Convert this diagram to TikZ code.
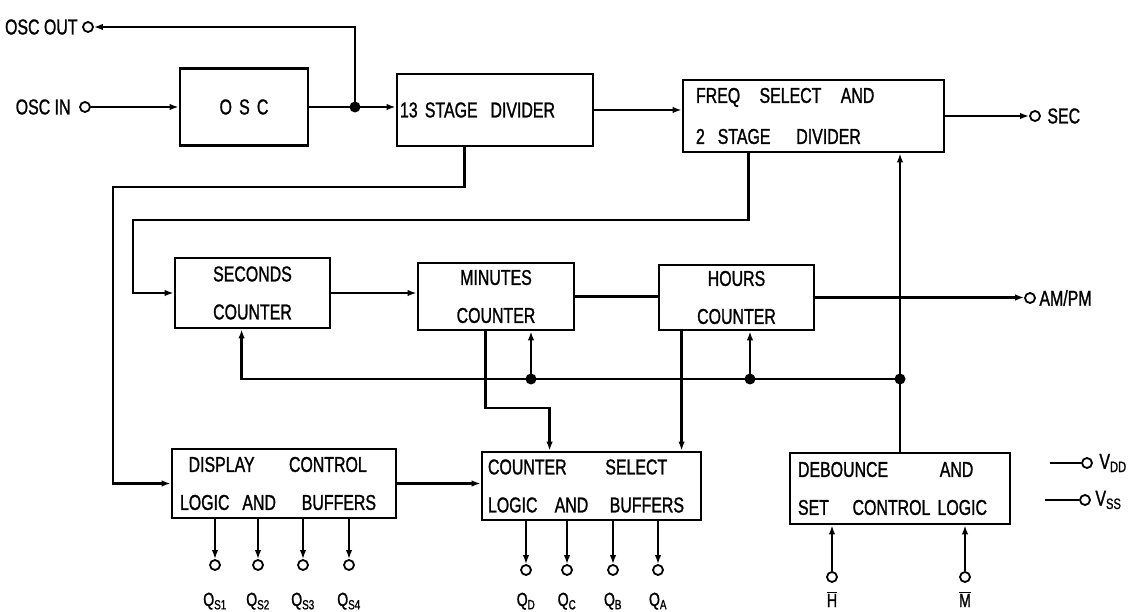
\documentclass[tikz,border=0pt]{standalone}
\usepackage{fontspec}
\newfontfamily\lblfont[FakeStretch=0.74,FakeBold=1.2]{Liberation Sans}
\usetikzlibrary{arrows.meta,positioning,calc}

\newcommand{\wgap}{\hspace{0.6em}}
\newcommand{\bgap}{\hspace{1.2em}}

\begin{document}
\begin{tikzpicture}
   [x=1pt,y=-1pt,
    >={Latex[length=9pt,width=6.5pt]},
    every node/.style={font=\lblfont\fontsize{21.5}{38}\selectfont},
    blk/.style={draw,line width=2.8pt,inner xsep=8pt,inner ysep=0pt,align=left},
    cblk/.style={blk,align=center},
    term/.style={circle,draw,line width=1.8pt,minimum size=10pt,inner sep=0pt},
    sig/.style={line width=2.3pt,->},
    wire/.style={line width=2.3pt},
    dot/.style={circle,fill,inner sep=0pt,minimum size=11pt},
    qlbl/.style={font=\lblfont\fontsize{19}{19}\selectfont,anchor=base}]

\path[use as bounding box,fill=white] (0,0) rectangle (1128,612);

% blocks
\node [cblk,text width=112pt,minimum height=77pt] (osc) at (244,107) {O S C};
\node [blk,text width=190pt,minimum height=72pt,inner xsep=3pt] (div) at (495,110) {13 STAGE\wgap DIVIDER};
\node [blk,text width=235pt,minimum height=72pt,inner xsep=13pt] (freq) at (813.5,116) {FREQ\hspace{0.9em}SELECT\hspace{0.9em}AND\\[3pt]2\wgap STAGE\bgap DIVIDER};
\node [cblk,text width=139pt,minimum height=70pt] (sec) at (252.5,293) {SECONDS\\COUNTER};
\node [cblk,text width=140pt,minimum height=67pt] (mins) at (496,296.5) {MINUTES\\COUNTER};
\node [cblk,text width=139pt,minimum height=65pt] (hrs) at (736.5,297.5) {HOURS\\COUNTER};
\node [blk,text width=208pt,minimum height=69pt] (disp) at (284,483.5) {\hspace{0.4em}DISPLAY\hspace{1.6em}CONTROL\\LOGIC\wgap AND\bgap BUFFERS};
\node [blk,text width=207pt,minimum height=68pt,inner xsep=6pt] (csel) at (591.5,486) {COUNTER\hspace{1.8em}SELECT\\LOGIC\hspace{0.8em}AND\hspace{1em}BUFFERS};
\node [blk,text width=204pt,minimum height=71pt] (deb) at (900,488.5) {DEBOUNCE\hspace{2.4em}AND\\SET\hspace{1.1em}CONTROL LOGIC};

% terminals
\node [term] (oscout) at (88,27) {};
\node [left=1pt of oscout] (toscout) {OSC OUT};
\node [term] (oscin) at (85,107) {};
\node [left=5pt of oscin] (toscin) {OSC IN};
\node [term] (secout) at (1035,116) {};
\node [right=3pt of secout] (tsecout) {SEC};
\node [term] (ampm) at (1030,298) {};
\node [right=0pt of ampm] (tampm) {AM/PM};
\node [term] (vdd) at (1087,463) {};
\node [right=3pt of vdd] (tvdd) {V\textsubscript{DD}};
\node [term] (vss) at (1085,500) {};
\node [right=1pt of vss] (tvss) {V\textsubscript{SS}};
\coordinate (vdd0) at (1050,463);
\coordinate (vss0) at (1045,500);
\draw [wire] (vdd0) -- (vdd);
\draw [wire] (vss0) -- (vss);

% oscillator chain
\coordinate (jo) at (355,107);
\draw [sig] (oscin) -- (osc);
\draw [sig] (osc) -- (osc -| div.west);
\draw [sig] (jo) |- (oscout);
\node [dot] (djo) at (jo) {};
\draw [sig] (div) -- (div -| freq.west);
\draw [sig] (freq) -- (secout);

% feeds to seconds and display
\coordinate (c1) at (133,220);
\coordinate (c2) at (113,187);
\draw [sig] ([xshift=67pt]freq.south west) |- (c1) |- (sec.west);
\draw [sig] ([xshift=69pt]div.south west) |- (c2) |- (disp.west);

% counters
\draw [sig] (sec) -- (sec -| mins.west);
\draw [wire] (mins) -- (mins -| hrs.west);
\draw [sig] (hrs.east) -- (hrs.east -| ampm.west);

% set bus
\coordinate (jm) at (531,379);
\coordinate (jh) at (750,379);
\coordinate (jd) at (900,379);
\draw [sig] (jm) -| ([xshift=68pt]sec.south west);
\draw [sig] (jm) -- (jm |- mins.south);
\draw [wire] (jm) -- (jd);
\draw [sig] (jh) -- (jh |- hrs.south);
\draw [sig] (deb) -- (deb |- freq.south);
\node [dot] (djm) at (jm) {};
\node [dot] (djh) at (jh) {};
\node [dot] (djd) at (jd) {};

% counter select inputs
\coordinate (c3) at (520,408);
\draw [sig] ([xshift=69pt]mins.south west) |- (c3) -| ([xshift=69pt]csel.north west);
\draw [sig] ([xshift=24pt]hrs.south west) -- ([xshift=24pt]hrs.south west |- csel.north);
\draw [sig] (disp) -- (disp -| csel.west);

% outputs
\foreach \n/\x/\s in {1/215/S1,2/258/S2,3/303/S3,4/349/S4}{
  \node [term] (qs\n) at (\x,565) {};
  \draw [sig] (qs\n |- disp.south) -- (qs\n);
  \node [qlbl] (lqs\n) at (\x,606) {Q\textsubscript{\s}};
}
\foreach \n/\x in {D/526,C/567,B/613,A/658}{
  \node [term] (q\n) at (\x,570) {};
  \draw [sig] (q\n |- csel.south) -- (q\n);
  \node [qlbl] (lq\n) at (\x,606) {Q\textsubscript{\n}};
}
\foreach \n/\x/\t in {h/832/H,m/965/M}{
  \node [term] (in\n) at (\x,577) {};
  \draw [sig] (in\n) -- (in\n |- deb.south);
  \node [qlbl] (lin\n) at (\x,607) {$\overline{\mbox{\t}}$};
}
\end{tikzpicture}
\end{document}
